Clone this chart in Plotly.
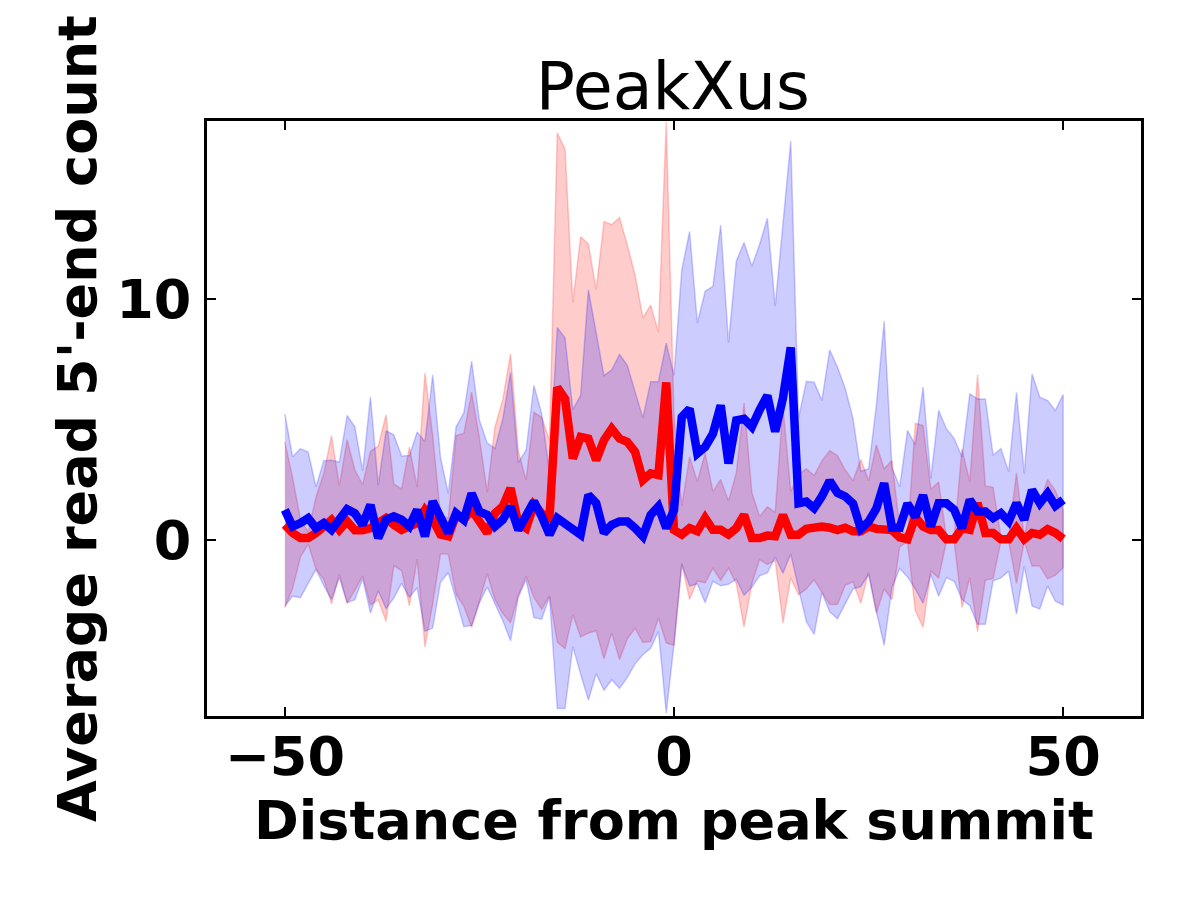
import plotly.graph_objects as go

# distance from peak summit
positions = list(range(-50, 51))

# red sample: mean and standard deviation of 5'-end counts
red_mean = [
    0.62, 0.28, 0.07, 0.07, 0.28, 0.55, 0.83, 0.41, 0.76, 0.39,
    0.39, 0.48, 0.69, 0.90, 0.62, 0.41, 0.55, 0.69, 1.24, 0.83,
    0.21, 0.14, 1.03, 0.83, 1.24, 0.83, 0.28, 1.10, 1.38, 2.14,
    0.69, 0.48, 1.45, 1.10, 0.90, 6.34, 5.86, 3.38, 4.28, 4.21,
    3.31, 4.14, 4.62, 4.21, 4.07, 3.66, 2.48, 2.76, 2.69, 6.55,
    0.40,
    0.21, 0.48, 0.35, 0.90, 0.41, 0.41, 0.21, 0.48, 1.03, 0.07,
    0.07, 0.17, 0.14, 1.03, 0.21, 0.21, 0.45, 0.50, 0.55, 0.50,
    0.40, 0.50, 0.35, 0.35, 0.55, 0.45, 0.45, 0.40, 0.10, 0.02,
    0.95, 0.55, 0.40, 0.40, 0.02, 0.02, 0.48, 0.41, 1.52, 0.28,
    0.28, 0.02, 0.02, 0.48, 0.02, 0.28, 0.21, 0.44, 0.28, 0.03,
]
red_sd = [
    3.45, 2.30, 0.80, 0.25, 1.50, 2.20, 3.50, 1.85, 3.40, 2.50,
    1.90, 3.20, 3.20, 4.30, 1.70, 1.70, 3.30, 1.50, 5.70, 3.50,
    0.80, 0.75, 3.30, 3.60, 4.90, 3.40, 1.70, 3.60, 4.45, 5.60,
    3.00, 2.00, 3.85, 4.00, 3.24, 10.60, 10.40, 6.50, 8.33, 8.10,
    7.10, 9.10, 8.50, 9.20, 8.20, 7.35, 6.76, 7.00, 5.95, 10.85,
    4.80,
    1.20, 2.97, 2.07, 2.70, 1.60, 2.10, 1.40, 2.30, 4.66, 1.90,
    0.90, 1.20, 1.00, 4.50, 1.80, 2.50, 2.50, 2.17, 2.73, 3.20,
    3.10, 2.40, 2.10, 3.00, 1.90, 3.50, 2.50, 2.90, 0.40, 0.10,
    3.90, 4.20, 1.70, 2.00, 0.10, 0.10, 3.30, 2.00, 5.35, 1.96,
    1.90, 0.10, 0.10, 2.30, 0.10, 1.38, 1.31, 2.07, 1.76, 1.20,
]

# blue sample
blue_mean = [
    1.24, 0.55, 0.69, 0.90, 0.48, 0.69, 0.41, 0.83, 1.27, 1.10,
    0.62, 1.45, 0.07, 0.83, 0.97, 0.83, 0.55, 1.24, 0.14, 1.59,
    0.83, 0.28, 1.10, 0.83, 1.93, 1.17, 1.03, 0.55, 0.83, 1.38,
    0.41, 1.03, 1.59, 0.97, 0.21, 0.90, 0.69, 0.48, 0.21, 1.86,
    1.52, 0.28, 0.62, 0.76, 0.76, 0.48, 0.14, 1.03, 1.38, 0.48,
    1.24,
    5.10, 5.45, 3.59, 3.86, 4.41, 5.59, 3.17, 4.97, 5.03, 4.70,
    5.40, 6.00, 4.50, 5.90, 8.00, 1.52, 1.59, 1.31, 1.80, 2.45,
    1.95, 1.80, 1.50, 0.45, 0.75, 1.30, 2.35, 0.50, 0.50, 1.50,
    0.95, 1.85, 0.55, 1.52, 1.52, 1.24, 0.48, 1.66, 1.17, 1.17,
    0.90, 1.10, 0.76, 1.52, 0.83, 2.07, 1.52, 1.93, 1.41, 1.66,
]
blue_sd = [
    4.00, 2.90, 3.10, 2.75, 1.72, 2.60, 2.90, 2.40, 3.90, 3.60,
    2.25, 4.50, 2.20, 3.70, 3.40, 2.65, 2.95, 3.24, 3.95, 5.27,
    2.60, 1.65, 3.60, 4.45, 5.50, 3.80, 3.00, 3.25, 4.20, 5.59,
    2.80, 2.70, 4.83, 4.28, 2.60, 7.93, 7.72, 4.93, 5.80, 8.54,
    7.10, 6.55, 6.45, 6.95, 6.50, 5.65, 4.93, 5.55, 5.20, 7.70,
    5.60,
    6.14, 7.38, 5.43, 6.48, 6.14, 7.51, 5.03, 6.62, 7.34, 6.68,
    6.90, 7.38, 5.22, 7.30, 8.60, 3.55, 5.00, 5.25, 4.00, 5.45,
    5.24, 4.50, 3.55, 2.40, 2.20, 4.30, 6.75, 2.50, 1.70, 3.05,
    3.00, 4.50, 2.00, 3.87, 3.10, 2.97, 2.97, 4.41, 4.69, 4.69,
    2.62, 2.69, 2.07, 4.62, 1.93, 4.83, 4.41, 3.86, 3.97, 4.38,
]

x_ticks = [-50, 0, 50]
y_ticks = [0, 10]


def band(mean, sd, rgb):
    upper = [m + s for m, s in zip(mean, sd)]
    lower = [m - s for m, s in zip(mean, sd)]
    return go.Scatter(
        x=positions + positions[::-1],
        y=upper + lower[::-1],
        fill="toself",
        fillcolor="rgba(%s,0.2)" % rgb,
        line=dict(color="rgba(%s,0.2)" % rgb, width=1.5),
        mode="lines",
        hoverinfo="skip",
        showlegend=False,
    )


fig = go.Figure()
fig.add_trace(band(red_mean, red_sd, "255,0,0"))
fig.add_trace(band(blue_mean, blue_sd, "0,0,255"))
fig.add_trace(go.Scatter(x=positions, y=red_mean, mode="lines",
                         line=dict(color="#ff0000", width=8.5), showlegend=False))
fig.add_trace(go.Scatter(x=positions, y=blue_mean, mode="lines",
                         line=dict(color="#0000ff", width=8.5), showlegend=False))

axis_font = dict(family="DejaVu Sans", size=54, color="black", weight="bold")

fig.update_layout(
    width=1200,
    height=900,
    paper_bgcolor="white",
    plot_bgcolor="white",
    margin=dict(l=199, r=67, t=113, b=192),
    font=dict(family="DejaVu Sans", color="black"),
    title=dict(text="PeakXus", x=0.554, xanchor="center",
               y=0.913, yref="container", yanchor="middle",
               font=dict(family="DejaVu Sans", size=65, color="black")),
    xaxis=dict(
        range=[-60, 60], tickvals=x_ticks,
        ticks="inside", ticklen=9, tickwidth=1.5, tickcolor="black",
        showline=True, linecolor="black", linewidth=2.5, mirror="ticks",
        showgrid=False, zeroline=False, automargin=False,
        tickfont=axis_font, ticklabelstandoff=-9,
    ),
    yaxis=dict(
        range=[-7.34, 17.43], tickvals=y_ticks,
        ticks="inside", ticklen=9, tickwidth=1.5, tickcolor="black",
        showline=True, linecolor="black", linewidth=2.5, mirror="ticks",
        showgrid=False, zeroline=False, automargin=False,
        tickfont=axis_font, ticklabelstandoff=2,
        title=dict(text="Average read 5'-end count", font=axis_font, standoff=3),
    ),
    annotations=[
        dict(text="Distance from peak summit", font=axis_font,
             xref="paper", x=0.5, xanchor="center",
             yref="paper", y=0, yanchor="middle", yshift=-104,
             showarrow=False),
    ],
)

fig.write_html("out.html")
